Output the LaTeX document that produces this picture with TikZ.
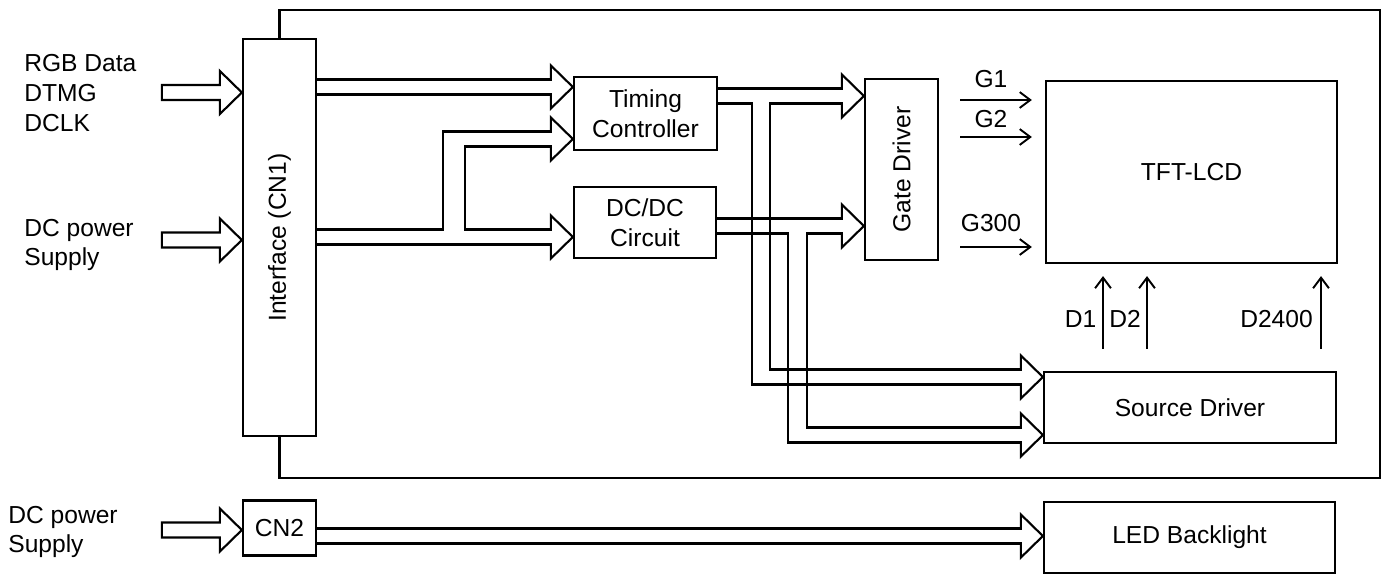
\documentclass[tikz,border=0pt]{standalone}
\usepackage{fontspec}
\setmainfont{Liberation Sans}
\usetikzlibrary{arrows.meta,positioning}

% hollow arrow head, tip at #1
\newcommand{\fathead}[1]{\draw[wire] (#1) ++(-22,-7.5) -- ++(0,-14) -- ++(22,21.5) -- ++(-22,21.5) -- ++(0,-14);}
% closed input arrow, tip at #1
\newcommand{\inarrow}[1]{\draw[wire] (#1) -- ++(-22,-21.5) -- ++(0,14) -- ++(-58,0) -- ++(0,15) -- ++(58,0) -- ++(0,14) -- cycle;}

\begin{document}
\begin{tikzpicture}[
        x=0.02cm, y=-0.02cm,
        font=\fontsize{14}{17}\selectfont,
        box/.style={rectangle, draw, line width=1.3pt, inner sep=0pt, align=center},
        wire/.style={line width=1.2pt},
        gsig/.style={-{Straight Barb[length=6pt,width=9pt]}, line width=1.1pt, shorten <=11.9pt, shorten >=7.4pt},
        dsig/.style={-{Straight Barb[length=6pt,width=9pt]}, line width=1.1pt, shorten <=12.5pt, shorten >=6.8pt},
        txt/.style={inner sep=0pt, align=left}
    ]
        \useasboundingbox (0,0) rectangle (1387,575);

        % Nodes
        \node[box, minimum width=1.46cm, minimum height=7.94cm] (iface) at (279.5,237.5) {\rotatebox{90}{Interface (CN1)}};
        \node[box, minimum width=2.86cm, minimum height=1.46cm] (tc) at (645.5,113.5) {Timing\\Controller};
        \node[box, minimum width=2.84cm, minimum height=1.42cm] (dcdc) at (645,222.5) {DC/DC\\Circuit};
        \node[box, minimum width=1.46cm, minimum height=3.62cm] (gate) at (901.5,169.5) {\rotatebox{90}{Gate Driver}};
        \node[box, minimum width=5.82cm, minimum height=3.64cm] (tft) at (1191.5,172) {TFT-LCD};
        \node[box, minimum width=5.84cm, minimum height=1.42cm] (src) at (1190,407.5) {Source Driver};
        \node[box, minimum width=1.46cm, minimum height=1.10cm] (cn2) at (279.5,528) {CN2};
        \node[box, minimum width=5.82cm, minimum height=1.42cm] (led) at (1189.5,537.5) {LED Backlight};

        % Input labels
        \node[txt, anchor=west] (rgb) at (24,93) {RGB Data\\DTMG\\DCLK};
        \node[txt, anchor=west] (dcin) at (24,245) {DC power\\Supply};
        \node[txt, anchor=west] (dcinb) at (8,532) {DC power\\Supply};

        % Module frame
        \draw[wire] (iface.north) -- (iface.north |- 0,10) -- (1380,10) -- (1380,478) -- (iface.south |- 0,478) -- (iface.south);

        % Inputs
        \inarrow{iface.west |- 0,92.5}
        \inarrow{iface.west |- 0,240}
        \inarrow{cn2.west |- 0,530}

        % Interface to timing controller and DC/DC
        \draw[wire] (iface.east |- 0,79.5) -- (552,79.5);
        \draw[wire] (iface.east |- 0,94.5) -- (552,94.5);
        \fathead{tc.west |- 0,87}
        \draw[wire] (iface.east |- 0,229.5) -- (443,229.5) -- (443,131.5) -- (552,131.5);
        \draw[wire] (552,146.5) -- (465,146.5) -- (465,229.5) -- (552,229.5);
        \draw[wire] (iface.east |- 0,244.5) -- (552,244.5);
        \fathead{tc.west |- 0,139}
        \fathead{dcdc.west |- 0,237}

        % Timing controller to gate and source driver
        \draw[wire] (tc.east |- 0,88.5) -- (843,88.5);
        \draw[wire] (tc.east |- 0,103.5) -- (752,103.5) -- (752,384.5) -- (1022,384.5);
        \draw[wire] (843,103.5) -- (770,103.5) -- (770,369.5) -- (1022,369.5);
        \fathead{gate.west |- 0,96}
        \fathead{src.west |- 0,377}

        % DC/DC to gate and source driver
        \draw[wire] (dcdc.east |- 0,218.5) -- (843,218.5);
        \draw[wire] (dcdc.east |- 0,233.5) -- (788,233.5) -- (788,442.5) -- (1022,442.5);
        \draw[wire] (843,233.5) -- (807,233.5) -- (807,427.5) -- (1022,427.5);
        \fathead{gate.west |- 0,226}
        \fathead{src.west |- 0,435}

        % CN2 to backlight
        \draw[wire] (cn2.east |- 0,528.5) -- (1022,528.5);
        \draw[wire] (cn2.east |- 0,543.5) -- (1022,543.5);
        \fathead{led.west |- 0,536}

        % Gate lines
        \foreach \y/\t/\ly in {100/G1/79.5, 137/G2/119.5, 247/G300/223.5} {
            \node[txt] (lbl\t) at (991,\ly) {\t};
            \draw[gsig] (gate.east |- 0,\y) -- (tft.west |- 0,\y);
        }

        % Data lines
        \foreach \x/\t/\lx in {1103/D1/1080.5, 1147/D2/1125, 1321/D2400/1276.5} {
            \node[txt] (lbl\t) at (\lx,319) {\t};
            \draw[dsig] (src.north -| \x,0) -- (tft.south -| \x,0);
        }

    \end{tikzpicture}
\end{document}
